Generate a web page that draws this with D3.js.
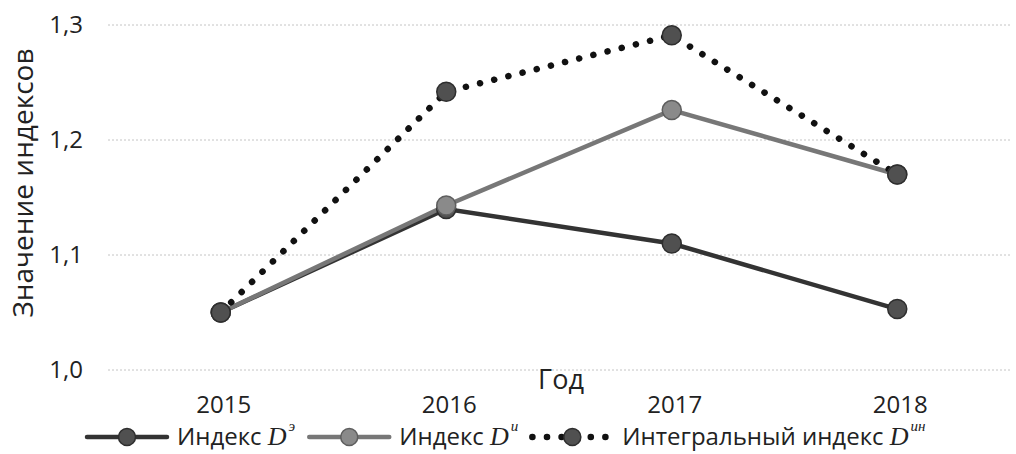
<!DOCTYPE html>
<html>
<head>
<meta charset="utf-8">
<script src="https://cdn.jsdelivr.net/npm/d3@7"></script>
<style>
  body { margin: 0; background: #fff; }
  svg { display: block; font-family: 'Open Sans', sans-serif; }
</style>
</head>
<body>
<svg id="chart" width="1016" height="454"></svg>
<script>
var years = [ '2015', '2016', '2017', '2018' ];
var indexE = [ 1.05, 1.14, 1.11, 1.053 ];
var indexI = [ 1.05, 1.143, 1.226, 1.17 ];
var indexInt = [ 1.05, 1.242, 1.291, 1.17 ];
var yTicks = [ 1.0, 1.1, 1.2, 1.3 ];

var svg = d3.select( '#chart' );

var x = d3.scalePoint()
  .domain( years )
  .range( [ 108, 1010 ] )
  .padding( 0.5 );

var y = d3.scaleLinear()
  .domain( [ 1.0, 1.3 ] )
  .range( [ 370, 25 ] );

var fmt = v => d3.format( '.1f' )( v ).replace( '.', ',' );

// grid
svg.append( 'g' )
  .selectAll( 'line' )
  .data( yTicks )
  .enter().append( 'line' )
    .attr( 'x1', 108 )
    .attr( 'x2', 1010 )
    .attr( 'y1', d => y( d ) )
    .attr( 'y2', d => y( d ) )
    .style( 'stroke', '#c4c4c4' )
    .style( 'stroke-width', 1 )
    .style( 'stroke-dasharray', '2 2' );

// y labels
svg.append( 'g' )
  .selectAll( 'text' )
  .data( yTicks )
  .enter().append( 'text' )
    .attr( 'x', 83 )
    .attr( 'y', d => y( d ) + 8 )
    .attr( 'text-anchor', 'end' )
    .style( 'font-size', '24px' )
    .style( 'fill', '#222' )
    .text( fmt );

// x labels
svg.append( 'g' )
  .selectAll( 'text' )
  .data( years )
  .enter().append( 'text' )
    .attr( 'x', d => x( d ) + 3 )
    .attr( 'y', 413 )
    .attr( 'text-anchor', 'middle' )
    .style( 'font-size', '24px' )
    .style( 'fill', '#222' )
    .text( d => d );

svg.append( 'text' )
  .attr( 'x', 561 )
  .attr( 'y', 389 )
  .attr( 'text-anchor', 'middle' )
  .style( 'font-size', '27px' )
  .style( 'fill', '#222' )
  .text( 'Год' );

svg.append( 'text' )
  .attr( 'transform', 'translate(33,183) rotate(-90)' )
  .attr( 'text-anchor', 'middle' )
  .style( 'font-size', '28px' )
  .style( 'fill', '#222' )
  .text( 'Значение индексов' );

var series = [
  { key: 'e', values: indexE, stroke: '#333', width: 4.5, dash: null, fill: '#505050', mstroke: '#2e2e2e', sup: 'э' },
  { key: 'i', values: indexI, stroke: '#777', width: 4.5, dash: null, fill: '#8a8a8a', mstroke: '#5e5e5e', sup: 'и' },
  { key: 'int', values: indexInt, stroke: '#111', width: 6.5, dash: '0.1 14.5', fill: '#505050', mstroke: '#2e2e2e', sup: 'ин' }
];

var line = d3.line()
  .x( ( d, i ) => x( years[ i ] ) )
  .y( d => y( d ) );

series.forEach( s => {
  svg.append( 'path' )
    .attr( 'd', line( s.values ) )
    .style( 'fill', 'none' )
    .style( 'stroke', s.stroke )
    .style( 'stroke-width', s.width )
    .style( 'stroke-linecap', 'round' )
    .style( 'stroke-dasharray', s.dash );
} );

series.forEach( s => {
  svg.append( 'g' )
    .selectAll( 'circle' )
    .data( s.values )
    .enter().append( 'circle' )
      .attr( 'cx', ( d, i ) => x( years[ i ] ) )
      .attr( 'cy', d => y( d ) )
      .attr( 'r', 9.5 )
      .style( 'fill', s.fill )
      .style( 'stroke', s.mstroke )
      .style( 'stroke-width', 1.5 );
} );

/* Legend */

var labels = [ 'Индекс ', 'Индекс ', 'Интегральный индекс ' ];
var lx = 87, ly = 437;

series.forEach( ( s, k ) => {
  var g = svg.append( 'g' );
  g.append( 'line' )
    .attr( 'x1', lx ).attr( 'x2', lx + 80 )
    .attr( 'y1', ly ).attr( 'y2', ly )
    .style( 'stroke', s.stroke )
    .style( 'stroke-width', s.width )
    .style( 'stroke-linecap', 'round' )
    .style( 'stroke-dasharray', s.dash );
  g.append( 'circle' )
    .attr( 'cx', lx + 40 ).attr( 'cy', ly )
    .attr( 'r', 8.5 )
    .style( 'fill', s.fill )
    .style( 'stroke', s.mstroke )
    .style( 'stroke-width', 1.5 );
  var t = g.append( 'text' )
    .attr( 'x', lx + 90 )
    .attr( 'y', ly + 8 )
    .style( 'font-size', '24px' )
    .style( 'fill', '#222' );
  t.append( 'tspan' ).text( labels[ k ] );
  t.append( 'tspan' )
    .style( 'font-family', "'Liberation Serif', serif" )
    .style( 'font-style', 'italic' )
    .style( 'font-size', '26px' )
    .text( 'D' );
  t.append( 'tspan' )
    .attr( 'dy', -14 )
    .attr( 'dx', 2 )
    .style( 'font-family', "'Liberation Serif', serif" )
    .style( 'font-style', 'italic' )
    .style( 'font-size', '15px' )
    .text( s.sup );
  lx += 90 + t.node().getComputedTextLength() + 16;
} );
</script>
</body>
</html>
